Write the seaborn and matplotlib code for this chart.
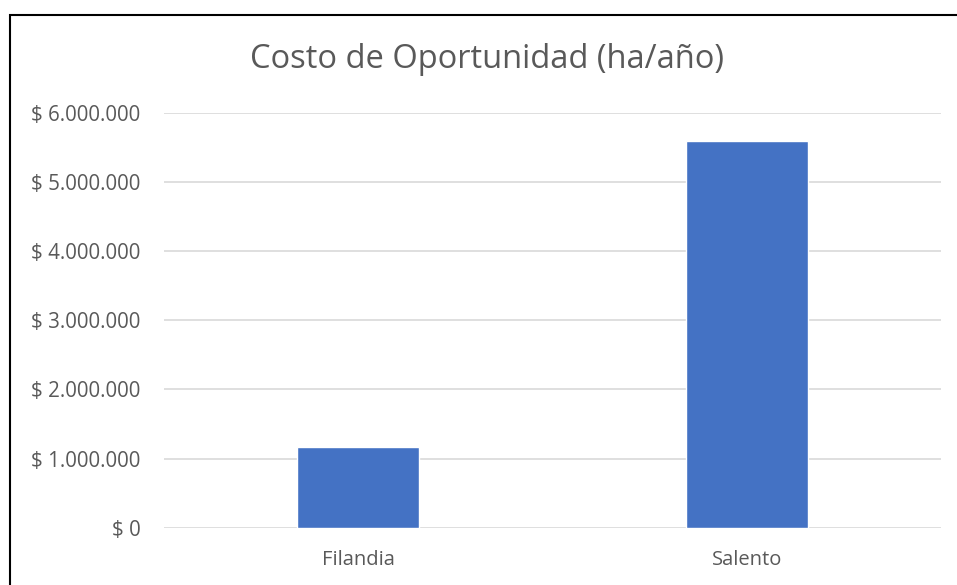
import matplotlib
matplotlib.use("Agg")
import matplotlib.pyplot as plt
import seaborn as sns
import pandas as pd
from matplotlib.ticker import FuncFormatter
from matplotlib.patches import Rectangle

# Data
municipios = ["Filandia", "Salento"]
costos = [1160000, 5590000]
y_ticks = [0, 1000000, 2000000, 3000000, 4000000, 5000000, 6000000]

df = pd.DataFrame({"Municipio": municipios, "Costo": costos})

sns.set_theme(style="white")
plt.rcParams["font.family"] = ["Open Sans", "DejaVu Sans"]

gray = "#595959"

fig = plt.figure(figsize=(9.57, 5.85), dpi=100)
ax = fig.add_axes([0.1714, 0.098, 0.9833 - 0.1714, 0.8074 - 0.098])

sns.barplot(data=df, x="Municipio", y="Costo", color="#4472C4", width=0.314,
            saturation=1, ax=ax, zorder=3)

def peso(v, pos):
    return "$ " + f"{int(v):,}".replace(",", ".")

ax.set_ylim(0, 6000000)
ax.set_xlim(-0.5, 1.5)
ax.set_yticks(y_ticks)
ax.yaxis.set_major_formatter(FuncFormatter(peso))
ax.grid(axis="y", color="#d9d9d9", linewidth=1.2, zorder=0)
ax.grid(axis="x", visible=False)
for s in ax.spines.values():
    s.set_visible(False)
ax.tick_params(axis="y", length=0, pad=17, labelsize=14.8, labelcolor=gray)
ax.tick_params(axis="x", length=0, pad=16, labelsize=14.5, labelcolor=gray)
ax.set_xlabel("")
ax.set_ylabel("")

fig.text(0.509, 1 - 60 / 585, "Costo de Oportunidad (ha/año)", ha="center", va="center",
         fontsize=23.5, color=gray)

# chart border (only top and left visible in the crop)
fig.patches.append(Rectangle((10 / 957, -0.1), 1.2, 1 - 14.5 / 585 + 0.1,
                             transform=fig.transFigure, fill=False,
                             edgecolor="black", linewidth=1.5))

fig.savefig("out.png", dpi=100)
